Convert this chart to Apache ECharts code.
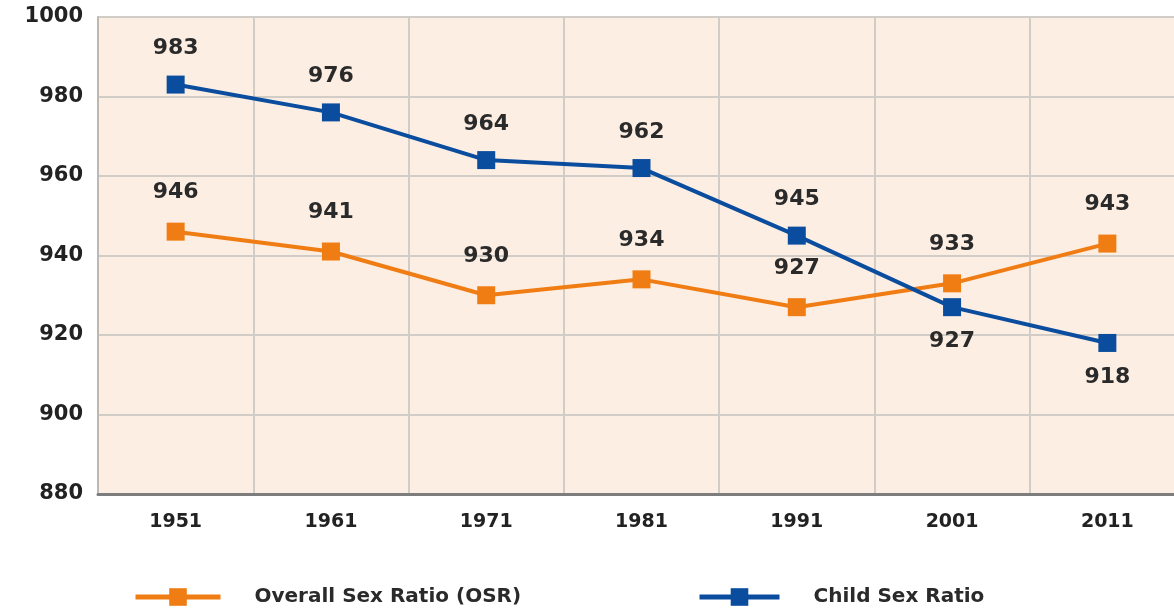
<!DOCTYPE html>
<html>
<head>
<meta charset="utf-8">
<script src="https://cdn.jsdelivr.net/npm/echarts@6/dist/echarts.min.js"></script>
<style>html,body{margin:0;padding:0;background:#fff;overflow:hidden;}#c{width:1174px;height:609px;}</style>
</head>
<body>
<div id="c"></div>
<script>
const years = ['1951','1961','1971','1981','1991','2001','2011'];
const osr = [946, 941, 930, 934, 927, 933, 943];
const csr = [983, 976, 964, 962, 945, 927, 918];
const csrLabelPos = ['top','top','top','top','top','bottom','bottom'];
const yTicks = [880, 900, 920, 940, 960, 980, 1000];

const FONT = 'DejaVu Sans';
const chart = echarts.init(document.getElementById('c'), null, {renderer:'canvas'});
const lbl = {show:true, fontFamily:FONT, fontWeight:'bold', fontSize:22, color:'#2a2a2a'};
chart.setOption({
  animation:false,
  grid:{left:98, top:17, right:-11, bottom:115, outerBoundsMode:'none', containLabel:false,
    show:true, backgroundColor:'#fdeee3', borderColor:'#d6d0cb', borderWidth:1},
  xAxis:{type:'category', data:years, boundaryGap:true,
    axisLine:{show:true, lineStyle:{color:'#7d7d7d', width:3}},
    axisTick:{show:false},
    splitLine:{show:true, lineStyle:{color:'#d2ccc7', width:2}},
    axisLabel:{fontFamily:FONT, fontWeight:'bold', fontSize:19, color:'#222', margin:19}},
  yAxis:{type:'value', min:yTicks[0], max:yTicks[yTicks.length-1], interval:20,
    axisLine:{show:true, lineStyle:{color:'#bdb8b4', width:2}},
    axisTick:{show:false},
    splitLine:{show:true, lineStyle:{color:'#d2ccc7', width:2}},
    axisLabel:{fontFamily:FONT, fontWeight:'bold', fontSize:21, color:'#222', margin:15, formatter:(v)=>String(v)}},
  legend:[
    {left:128, top:582, itemWidth:85, itemHeight:22, data:['Overall Sex Ratio (OSR)'],
     lineStyle:{width:5},
     textStyle:{fontFamily:FONT, fontWeight:'bold', fontSize:20, color:'#2a2a2a', padding:[0,0,0,29]}},
    {left:692, top:582, itemWidth:80, itemHeight:22, data:['Child Sex Ratio'],
     lineStyle:{width:5},
     textStyle:{fontFamily:FONT, fontWeight:'bold', fontSize:20, color:'#2a2a2a', padding:[0,0,0,29]}}
  ],
  series:[
    {name:'Overall Sex Ratio (OSR)', type:'line', data:osr, symbol:'rect', symbolSize:18,
     lineStyle:{color:'#f07c14', width:4}, itemStyle:{color:'#f07c14'},
     label:Object.assign({position:'top', distance:19}, lbl)},
    {name:'Child Sex Ratio', type:'line', symbol:'rect', symbolSize:18,
     data:csr.map((v,i)=>({value:v, label:{position:csrLabelPos[i], distance:csrLabelPos[i]==='top'?16:14}})),
     lineStyle:{color:'#0a4d9e', width:4}, itemStyle:{color:'#0a4d9e'},
     label:lbl}
  ]
});
</script>
</body>
</html>
